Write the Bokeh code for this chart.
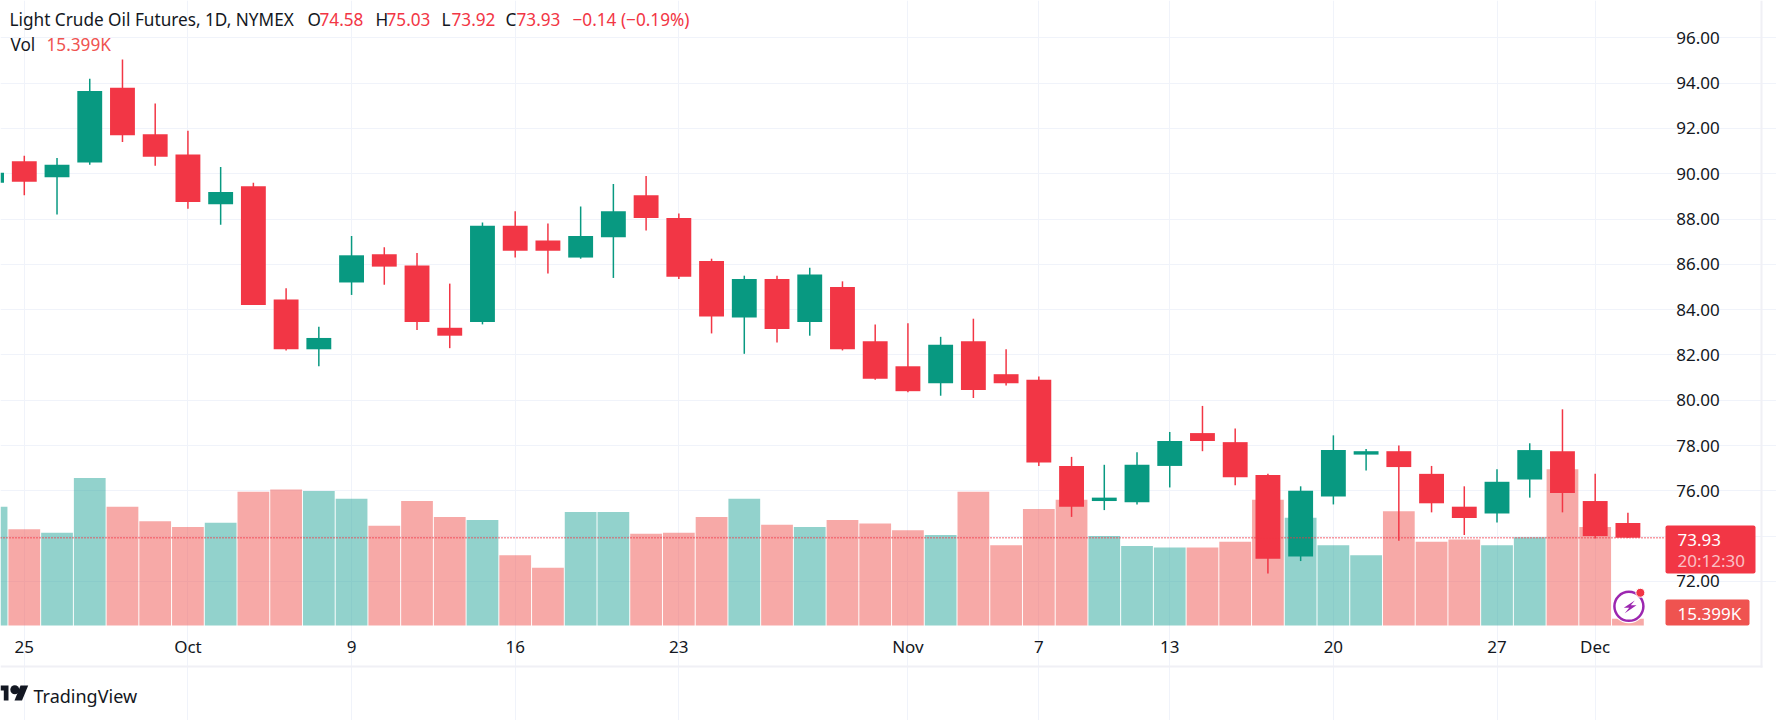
from bokeh.plotting import figure
from bokeh.models import (Range1d, FixedTicker, Label, BoxAnnotation, PolyAnnotation,
                          ColumnDataSource, NumeralTickFormatter)
from bokeh.embed import file_html
from bokeh.resources import INLINE

days = list(range(-1, 50))
opens = [89.6,90.55,89.85,90.5,93.8,91.75,90.85,88.65,89.45,84.45,82.25,85.2,86.45,85.95,83.2,83.45,87.7,87.05,86.3,87.2,89.05,88.05,86.15,83.65,85.35,83.45,85.0,82.6,81.5,80.75,82.6,81.15,80.9,77.1,75.55,75.5,77.1,78.55,78.15,76.7,73.1,75.75,77.6,77.75,76.75,75.3,75.0,76.5,77.75,75.55,74.58]
closes = [90.05,89.65,90.4,93.65,91.7,90.75,88.75,89.2,84.2,82.25,82.75,86.4,85.9,83.45,82.85,87.7,86.6,86.6,87.25,88.35,88.05,85.45,83.7,85.35,83.15,85.55,82.25,80.95,80.4,82.45,80.45,80.75,77.25,75.3,75.7,77.15,78.2,78.2,76.6,73.0,76.0,77.8,77.75,77.05,75.45,74.8,76.4,77.8,75.9,74.0,73.93]
highs = [90.1,90.8,90.7,94.2,95.05,93.1,91.9,90.3,89.6,84.95,83.25,87.25,86.75,86.5,85.15,87.85,88.35,87.8,88.55,89.55,89.9,88.25,86.25,85.5,85.5,85.85,85.25,83.35,83.4,82.8,83.6,82.25,81.05,77.5,77.15,77.7,78.6,79.75,78.75,76.75,76.2,78.45,77.85,78.0,77.1,76.2,76.95,78.1,79.6,76.75,75.03]
lows = [89.55,89.05,88.2,90.4,91.4,90.35,88.45,87.75,84.2,82.2,81.5,84.65,85.1,83.1,82.3,83.35,86.3,85.6,86.25,85.4,87.5,85.35,82.95,82.05,82.55,82.85,82.2,80.9,80.35,80.2,80.1,80.65,77.1,74.85,75.15,75.4,76.15,77.75,76.25,72.35,72.9,75.4,76.9,73.8,75.05,74.05,74.6,75.7,75.05,73.9,73.92]
volumes = [269,218,210,334,269,236,223,233,303,308,305,287,226,282,246,239,159,131,257,257,208,210,246,287,228,223,239,231,216,205,303,182,264,285,203,180,177,177,190,285,244,182,159,259,190,195,182,200,354,223,15.399]
price_ticks = [72,74,76,78,80,82,84,86,88,90,92,94,96]
time_ticks = [0,5,10,15,20,27,31,35,40,45,48]
time_labels = ["25","Oct","9","16","23","Nov","7","13","20","27","Dec"]

RED, GREEN = "#f23645", "#089981"
TEXT = "#131722"
FONT = "Noto Sans"
HEIGHT = 720
X_LEFT, X_PANE_RIGHT, X_RIGHT = -0.727, 50.14, 53.54
Y_PANE_BOTTOM, Y_TOP = 70.04, 97.65

colors = [GREEN if c >= o else RED for o, c in zip(opens, closes)]
vcolors = ["#26a69a" if c >= o else "#ef5350" for o, c in zip(opens, closes)]
src = ColumnDataSource(dict(x=days, o=opens, c=closes, h=highs, l=lows, v=volumes, col=colors, vcol=vcolors,
                            top=[max(a, b) for a, b in zip(opens, closes)],
                            bot=[min(a, b) for a, b in zip(opens, closes)]))

p = figure(width=1776, height=HEIGHT, output_backend="svg", toolbar_location=None,
           x_range=Range1d(X_LEFT, X_RIGHT), y_range=Range1d(65.86, Y_TOP),
           min_border_left=0, min_border_top=0, min_border_right=0, min_border_bottom=0,
           x_axis_location="below", y_axis_location="right",
           outline_line_color=None, background_fill_color="white", margin=0)
p.extra_y_ranges = {"vol": Range1d(-215.2, 1416)}

p.xgrid.ticker = FixedTicker(ticks=time_ticks)
p.ygrid.ticker = FixedTicker(ticks=price_ticks)
p.xgrid.grid_line_color = "#f0f3fa"
p.ygrid.grid_line_color = "#f0f3fa"
p.xgrid.bounds = (Y_PANE_BOTTOM, Y_TOP)
p.ygrid.bounds = (X_LEFT, X_PANE_RIGHT)

xa = p.xaxis[0]
xa.ticker = FixedTicker(ticks=time_ticks)
xa.major_label_overrides = dict(zip(time_ticks, time_labels))
xa.fixed_location = Y_PANE_BOTTOM
ya = p.yaxis[0]
ya.ticker = FixedTicker(ticks=price_ticks)
ya.formatter = NumeralTickFormatter(format="0.00")
ya.major_label_overrides = {74: ""}
ya.fixed_location = X_PANE_RIGHT
for a in (xa, ya):
    a.axis_line_color = None
    a.major_tick_line_color = None
    a.minor_tick_line_color = None
    a.major_label_text_color = TEXT
    a.major_label_text_font = FONT
    a.major_label_text_font_size = "17px"
xa.major_label_standoff = 3
ya.major_label_standoff = 5

p.vbar(x="x", bottom=0, top="v", width=0.97, fill_color="vcol", fill_alpha=0.5, line_color=None,
       source=src, y_range_name="vol")
p.segment(x0="x", x1="x", y0="l", y1="h", line_color="col", line_width=1.5, source=src)
p.vbar(x="x", bottom="bot", top="top", width=0.76, fill_color="col", line_color=None, source=src)
p.segment(x0=[X_LEFT], x1=[X_PANE_RIGHT], y0=[closes[-1]], y1=[closes[-1]], line_color=RED, line_width=1.5,
          line_dash="1 2")


def Y(top):
    return HEIGHT - top


def txt(x, top, text, color=TEXT, size="17.2px", alpha=1.0):
    p.add_layout(Label(x=x, y=Y(top), x_units="screen", y_units="screen", text=text, text_color=color,
                       text_font=FONT, text_font_size=size, text_baseline="middle", text_alpha=alpha))


def box(l, r, t, b, color, radius=0):
    p.add_layout(BoxAnnotation(left=l, right=r, top=Y(t), bottom=Y(b), left_units="screen", right_units="screen",
                               top_units="screen", bottom_units="screen", fill_color=color, fill_alpha=1,
                               line_color=None, border_radius=radius))


txt(9, 19, "Light Crude Oil Futures, 1D, NYMEX")
for x, s, c in [(307, "O", TEXT), (319, "74.58", RED), (375, "H", TEXT), (386, "75.03", RED),
                (441, "L", TEXT), (451, "73.92", RED), (505, "C", TEXT), (516, "73.93", RED),
                (572, "\u22120.14 (\u22120.19%)", RED)]:
    txt(x, 19, s, c)
txt(10, 44, "Vol")
txt(46, 44, "15.399K", "#ef5350")

box(1665, 1755, 525, 573, RED, 2)
txt(1677, 539, "73.93", "white", "17px")
txt(1677, 560, "20:12:30", "white", "17px", 0.7)
box(1665, 1749, 599, 625, "#ef5350", 2)
txt(1677, 613, "15.399K", "white", "17px")

# outer frame of the widget
box(1760, 1762, 0, 667, "#f0f0f5")
box(0, 1762, 665, 667, "#f0f0f5")

# icon
p.scatter([49.03], [70.9], size=34, fill_color="white", line_color=None)
p.scatter([49.03], [70.9], size=29, fill_color="white", line_color="#9c27b0", line_width=2.5)
p.scatter([49.38], [71.5], size=9, fill_color=RED, line_color="white")
bolt_x = [1634.3, 1623.3, 1628.7, 1624.3, 1636, 1630.3]
bolt_y = [600, 607.3, 607.3, 612.7, 604.7, 604.7]
p.add_layout(PolyAnnotation(xs=bolt_x, ys=[Y(v) for v in bolt_y], xs_units="screen", ys_units="screen",
                            fill_color="#9c27b0", fill_alpha=1, line_color=None))

# logo
for xs, ys in [([0, 8, 8, 3.3, 3.3, 0], [685, 685, 700, 700, 690, 690]),
               ([20, 27.7, 21.5, 14], [685, 685, 700, 700])]:
    p.add_layout(PolyAnnotation(xs=xs, ys=[Y(v) for v in ys], xs_units="screen", ys_units="screen",
                                fill_color=TEXT, fill_alpha=1, line_color=None))
p.scatter([-0.29], [67.22], size=9, fill_color=TEXT, line_color=None)
txt(33, 695, "TradingView", TEXT, "18px")

open("out.html", "w").write(file_html(p, INLINE))
